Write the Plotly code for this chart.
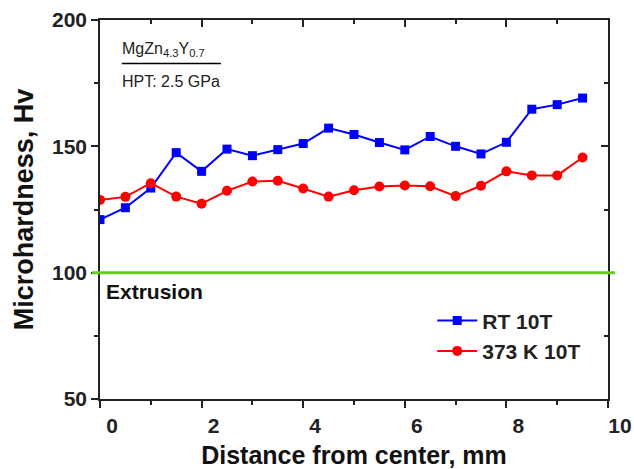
import plotly.graph_objects as go

distance = [0, 0.5, 1.0, 1.5, 2.0, 2.5, 3.0, 3.5, 4.0, 4.5, 5.0, 5.5, 6.0, 6.5, 7.0, 7.5, 8.0, 8.5, 9.0, 9.5]
rt_10t = [121.0, 125.7, 133.5, 147.5, 140.1, 148.9, 146.3, 148.7, 151.1, 157.2, 154.7, 151.5, 148.6, 153.9, 150.0, 147.0, 151.6, 164.7, 166.5, 169.1]
k373_10t = [128.8, 130.0, 135.4, 130.1, 127.3, 132.4, 136.1, 136.4, 133.3, 130.1, 132.6, 134.1, 134.5, 134.2, 130.3, 134.4, 140.1, 138.5, 138.5, 145.6]
extrusion_level = 100
x_ticks = [0, 2, 4, 6, 8, 10]
y_ticks = [50, 100, 150, 200]

FONT = "Arial, Liberation Sans, sans-serif"

fig = go.Figure()
fig.add_trace(go.Scatter(
    x=distance, y=rt_10t, mode="lines+markers", name="RT 10T",
    line=dict(color="#0000ff", width=2),
    marker=dict(symbol="square", size=9, color="#0000ff"),
))
fig.add_trace(go.Scatter(
    x=distance, y=k373_10t, mode="lines+markers", name="373 K 10T",
    line=dict(color="#ff0000", width=2),
    marker=dict(symbol="circle", size=10, color="#ff0000"),
))
# invisible trace for top/right mirrored axes
fig.add_trace(go.Scatter(x=[0, 10], y=[50, 200], xaxis="x2", yaxis="y2",
                         mode="markers", marker=dict(opacity=0), showlegend=False,
                         hoverinfo="skip"))

fig.add_shape(type="line", xref="paper", yref="y", x0=-0.016, x1=1.014,
              y0=extrusion_level, y1=extrusion_level,
              line=dict(color="#66cc22", width=3), layer="above")
fig.add_shape(type="line", xref="paper", yref="paper", x0=0.043, x1=0.238,
              y0=0.885, y1=0.885, line=dict(color="black", width=1.5))

fig.add_annotation(text="MgZn<sub>4.3</sub>Y<sub>0.7</sub>", xref="paper", yref="paper",
                   x=0.039, y=0.892, xanchor="left", yanchor="bottom", showarrow=False,
                   font=dict(family=FONT, size=16, color="#222"))
fig.add_annotation(text="HPT: 2.5 GPa", xref="paper", yref="paper",
                   x=0.039, y=0.865, xanchor="left", yanchor="top", showarrow=False,
                   font=dict(family=FONT, size=16, color="#222"))
fig.add_annotation(text="<b>Extrusion</b>", xref="paper", yref="y",
                   x=0.008, y=extrusion_level, xanchor="left", yanchor="top", yshift=-5,
                   showarrow=False, font=dict(family=FONT, size=21, color="#111"))
# y-axis title
fig.add_annotation(text="<b>Microhardness, Hv</b>", xref="paper", yref="paper",
                   x=-0.15, y=0.5, xanchor="center", yanchor="middle", textangle=-90,
                   showarrow=False, font=dict(family=FONT, size=27, color="#111"))

axis_common = dict(showline=True, linecolor="#222", linewidth=1.5, showgrid=False,
                   zeroline=False, automargin=False)

fig.update_layout(
    width=634, height=469,
    margin=dict(l=100, r=26, t=20, b=70),
    paper_bgcolor="white", plot_bgcolor="white",
    font=dict(family=FONT, color="#222"),
    xaxis=dict(range=[0, 10], tickvals=x_ticks, ticks="outside", ticklen=7, tickwidth=1.5,
               tickcolor="#222", ticklabelshift=12,
               minor=dict(dtick=1, ticks="outside", ticklen=4, tickwidth=1.5, tickcolor="#222"),
               tickfont=dict(family=FONT, size=21, color="#222", weight="bold"),
               title=dict(text="<b>Distance from center, mm</b>", standoff=14,
                          font=dict(family=FONT, size=25, color="#111")),
               **axis_common),
    yaxis=dict(range=[50, 200], tickvals=y_ticks, ticks="outside", ticklen=7, tickwidth=1.5,
               tickcolor="#222",
               minor=dict(dtick=25, ticks="outside", ticklen=4, tickwidth=1.5, tickcolor="#222"),
               tickfont=dict(family=FONT, size=21, color="#222", weight="bold"),
               **axis_common),
    xaxis2=dict(range=[0, 10], overlaying="x", side="top", tickvals=x_ticks, ticks="inside",
                ticklen=7, tickwidth=1.5, tickcolor="#222", showticklabels=False,
                minor=dict(dtick=1, ticks="inside", ticklen=4, tickwidth=1.5, tickcolor="#222"),
                **axis_common),
    yaxis2=dict(range=[50, 200], overlaying="y", side="right", tickvals=y_ticks, ticks="inside",
                ticklen=7, tickwidth=1.5, tickcolor="#222", showticklabels=False,
                minor=dict(dtick=25, ticks="inside", ticklen=4, tickwidth=1.5, tickcolor="#222"),
                **axis_common),
    legend=dict(x=0.654, y=0.26, xanchor="left", yanchor="top", bgcolor="rgba(0,0,0,0)",
                font=dict(family=FONT, size=21, color="#222", weight="bold"),
                itemwidth=40, tracegroupgap=0),
    showlegend=True,
)

fig.write_html("out.html", config={"displayModeBar": False},
               post_script="document.body.style.margin='0';document.body.style.padding='0';")
